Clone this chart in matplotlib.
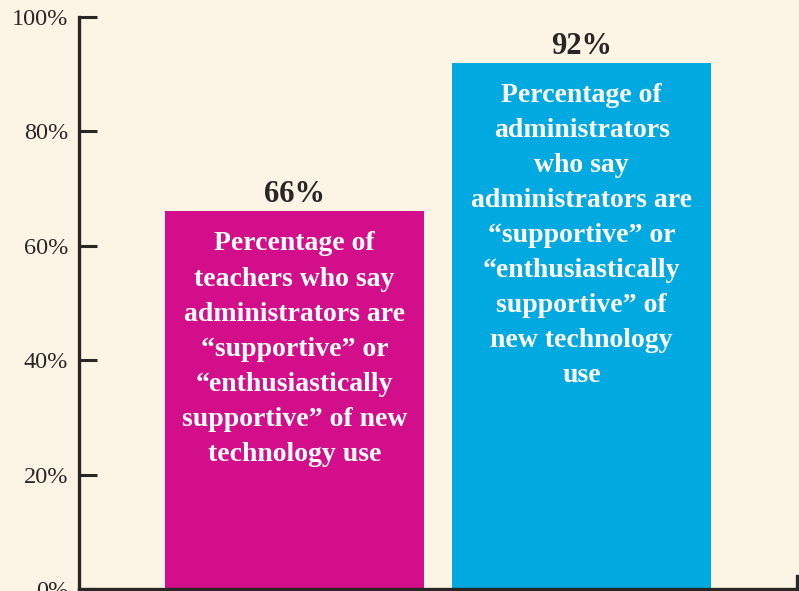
import matplotlib.pyplot as plt
import numpy as np

# survey results: share who say administrators back new technology
groups = ["Teachers", "Administrators"]
values = [66, 92]
colors = ["#D20E8B", "#00A9E0"]
descriptions = [
    "Percentage of\nteachers who say\nadministrators are\n\u201csupportive\u201d or\n\u201centhusiastically\nsupportive\u201d of new\ntechnology use",
    "Percentage of\nadministrators\nwho say\nadministrators are\n\u201csupportive\u201d or\n\u201centhusiastically\nsupportive\u201d of\nnew technology\nuse",
]
yticks = [0, 20, 40, 60, 80, 100]

bg = "#FCF5E5"
ink = "#2A2626"
plt.rcParams['font.family'] = ['Liberation Serif', 'DejaVu Serif']

fig = plt.figure(figsize=(7.99, 5.91), dpi=100, facecolor=bg)
ax = fig.add_axes([79 / 799, 2 / 591, 718 / 799, 572 / 591])
ax.set_facecolor(bg)

x = np.arange(len(groups))
bars = ax.bar(x, values, width=0.9, color=colors, zorder=1)

for xi, v, desc in zip(x, values, descriptions):
    ax.annotate(f"{v}%", (xi, v), xytext=(0, 1.5), textcoords="offset points",
                ha="center", va="bottom", fontsize=22, fontweight="bold", color=ink)
    ax.text(xi, v - 3.5, desc, ha="center", va="top", fontsize=20,
            fontweight="bold", color="white", linespacing=1.53)

ax.set_xlim(-0.75, 1.75)
ax.set_ylim(0, 100)
ax.set_xticks([])
ax.set_yticks(yticks)
ax.set_yticklabels([f"{t}%" for t in yticks])
ax.tick_params(axis="y", direction="in", length=13, width=2.2, color=ink,
               labelsize=17.5, labelcolor=ink, pad=8)

ax.spines["top"].set_visible(False)
for side in ["left", "bottom", "right"]:
    ax.spines[side].set_color(ink)
    ax.spines[side].set_linewidth(2.4)
ax.spines["right"].set_bounds(0, 2.2)
ax.spines["bottom"].set_zorder(3)
ax.spines["left"].set_zorder(3)

fig.savefig("out.png", dpi=100, facecolor=bg)
